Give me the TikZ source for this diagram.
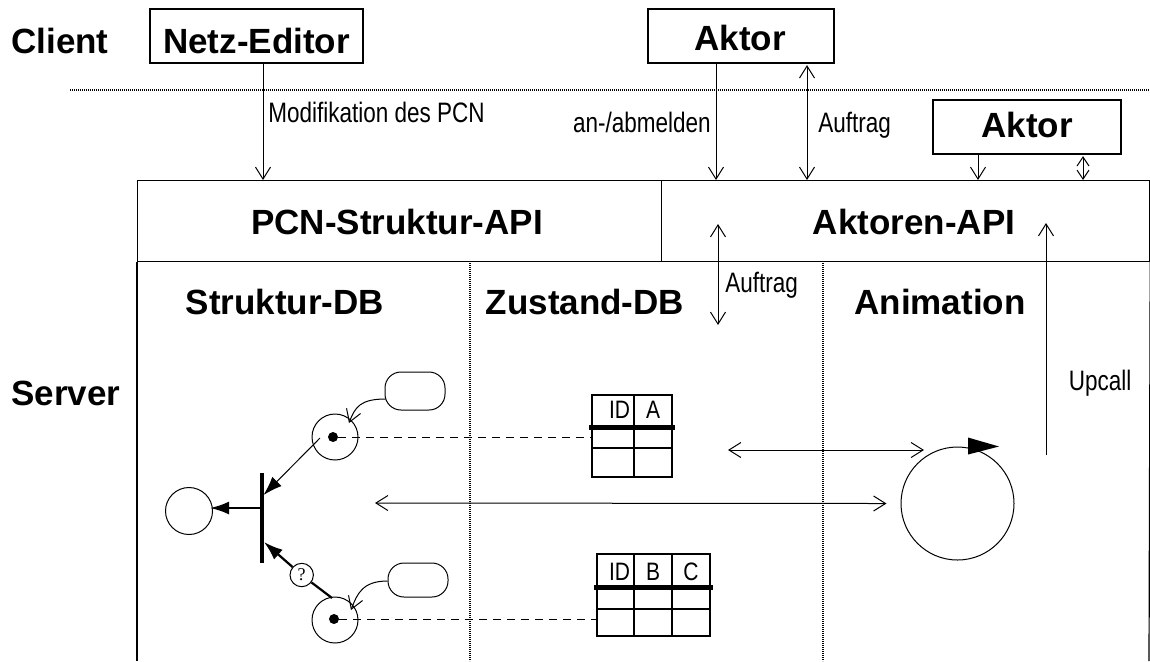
\documentclass[tikz,border=0pt]{standalone}
\usepackage{fontspec}
\usepackage{graphicx}
\setmainfont{Liberation Sans}
\newfontfamily\qfont{Liberation Serif}
\usetikzlibrary{arrows.meta,calc}
\newcommand\stx[1]{\scalebox{1}[1.25]{#1}}
\newcommand\sty[1]{\scalebox{1}[1.2]{#1}}
\begin{document}
\begin{tikzpicture}[x=0.5pt,y=-0.5pt,
  ln/.style={line width=0.6pt},
  bx/.style={draw, line width=0.6pt, inner sep=0pt},
  bt/.style={font=\fontsize{17.5}{20}\selectfont\bfseries, inner sep=0pt, anchor=base},
  rt/.style={font=\fontsize{11.25}{13}\selectfont, inner sep=0pt},
  tt/.style={font=\fontsize{10.5}{12}\selectfont, inner sep=0pt, anchor=base},
  oa/.style={line width=0.5pt, -{Straight Barb[length=6pt,width=7.5pt]}},
  da/.style={line width=0.5pt, {Straight Barb[length=6pt,width=7.5pt]}-{Straight Barb[length=6pt,width=7.5pt]}},
  sda/.style={line width=0.5pt, {Straight Barb[length=4.5pt,width=6pt]}-{Straight Barb[length=4.5pt,width=6pt]}},
  fa/.style={-{Latex[length=9.5pt,width=6.5pt]}},
  place/.style={circle, draw, line width=0.5pt, minimum size=23pt, inner sep=0pt},
  token/.style={circle, fill, minimum size=5pt, inner sep=0pt},
  dotl/.style={line width=0.6pt, dash pattern=on 0.5pt off 0.5pt},
  dotv/.style={line width=0.8pt, dash pattern=on 0.6pt off 0.4pt},
  dashl/.style={line width=0.5pt, dash pattern=on 4pt off 3pt}]
\fill[white] (0,0) rectangle (1150,661);
\useasboundingbox (0,0) rectangle (1150,661);

% side labels
\node[bt] (client) at (60,53) {Client};
\node[bt] (server) at (66,405.5) {Server};

% client boxes
\node[bx, minimum width=106.5pt, minimum height=27pt] (netz) at (256.5,36) {};
\node[bt] (netzt) at (256.5,53) {Netz-Editor};
\node[bx, minimum width=93pt, minimum height=27pt] (aktor1) at (741,36) {};
\node[bt] (aktor1t) at (740,50) {Aktor};
\node[bx, minimum width=94pt, minimum height=27pt] (aktor2) at (1027,127) {};
\node[bt] (aktor2t) at (1027,137) {Aktor};

% dotted separator
\coordinate (dl) at (70,90);
\coordinate (dr) at (1150,90);
\draw[dotl] (dl) -- (dr);

% API row
\node[bx, minimum width=262pt, minimum height=40.5pt, anchor=north west] (pcnapi) at (137,180) {};
\node[bx, minimum width=244pt, minimum height=40.5pt, anchor=north west] (aktapi) at (661,180) {};
\node[bt] (pcnapit) at (397,234.5) {PCN-Struktur-API};
\node[bt] (aktapit) at (914,234.5) {Aktoren-API};

% lower frame
\coordinate (fl) at (137,661);
\coordinate (fr) at (1149,661);
\draw[ln] (pcnapi.south west) -- (fl);
\draw[ln] (aktapi.south east) -- (fr);
\coordinate (v1a) at (470,261);
\coordinate (v1b) at (470,661);
\coordinate (v2a) at (823,261);
\coordinate (v2b) at (823,661);
\draw[dotv] (v1a) -- (v1b);
\draw[dotv] (v2a) -- (v2b);

\node[bt] (sdb) at (285,314.5) {Struktur-DB};
\node[bt] (zdb) at (585,314.5) {Zustand-DB};
\node[bt] (ani) at (940,314.5) {Animation};

% top connectors
\coordinate (n1) at ($(netz.south)+(6.5,0)$);
\draw[oa] (n1) -- (n1 |- pcnapi.north);
\node[rt, anchor=base west] (modl) at (268,122) {\stx{Modifikation des PCN}};
\coordinate (a1) at ($(aktor1.south)+(-25,0)$);
\draw[oa] (a1) -- (a1 |- aktapi.north);
\node[rt, anchor=base east] (anl) at (711,132) {\stx{an-/abmelden}};
\coordinate (a2) at ($(aktor1.south)+(66,1.5)$);
\draw[da] (a2) -- (a2 |- aktapi.north);
\node[rt, anchor=base west] (auf1) at (818,132) {\stx{Auftrag}};
\coordinate (b1) at ($(aktor2.south)+(-49,0)$);
\draw[oa] (b1) -- (b1 |- aktapi.north);
\coordinate (b2) at ($(aktor2.south)+(56,1.5)$);
\draw[sda] (b2) -- (b2 |- aktapi.north);

% Auftrag / Upcall
\coordinate (u1) at (718,224);
\coordinate (u2) at (718,325);
\draw[da] (u1) -- (u2);
\node[rt, anchor=base west] (auf2) at (725,292) {\stx{Auftrag}};
\coordinate (up0) at (1046,455);
\coordinate (up1) at (1046,223);
\draw[oa] (up0) -- (up1);
\node[rt, anchor=base] (upl) at (1100,390) {\stx{Upcall}};

% tables
\node[draw, line width=0.6pt, minimum width=40pt, minimum height=41pt, inner sep=0pt] (tab1) at (632,436) {};
\draw[ln] (634,395) -- (634,477);
\draw[ln] (592,448) -- (672,448);
\draw[line width=2.5pt] (589,427) -- (675,427);
\node[tt] (t1id) at (619.5,418) {\sty{ID}};
\node[tt] (t1a) at (653,418) {\sty{A}};

\node[draw, line width=0.6pt, minimum width=56.5pt, minimum height=41pt, inner sep=0pt] (tab2) at (653.5,595) {};
\draw[ln] (634,554) -- (634,636);
\draw[ln] (672,554) -- (672,636);
\draw[ln] (597,609) -- (710,609);
\draw[line width=2.5pt] (594,587) -- (713,587);
\node[tt] (t2id) at (619.5,580) {\sty{ID}};
\node[tt] (t2b) at (653,580) {\sty{B}};
\node[tt] (t2c) at (691,580) {\sty{C}};

% Petri net
\node[place] (p1) at (335,437) {};
\node[token] (k1) at (333,437) {};
\node[place] (p2) at (335,620) {};
\node[token] (k2) at (334,619) {};
\node[place, minimum size=23.5pt] (p0) at (189,511) {};
\node[fill, minimum width=1.9pt, minimum height=45pt, inner sep=0pt] (bar) at (262,518) {};
\node[circle, draw, line width=0.5pt, fill=white, minimum size=11.7pt, inner sep=0pt, font=\qfont\fontsize{9}{10}\selectfont] (q) at (301.7,575) {?};
\node[draw, line width=0.5pt, rounded corners=8pt, minimum width=30pt, minimum height=19pt, inner sep=0pt] (r1) at (415,391) {};
\node[draw, line width=0.5pt, rounded corners=8pt, minimum width=30pt, minimum height=17pt, inner sep=0pt] (r2) at (418,580) {};

\draw[line width=0.5pt, fa] ($(p1)+(-15,1)$) -- ($(bar)+(1.5,-23)$);
\draw[line width=1.1pt, fa] ($(bar)+(0,-10)$) -- ($(p0)+(21,-3)$);
\draw[line width=1.1pt] ($(p2)+(-3,-22)$) -- (q);
\draw[line width=1.1pt, fa] (q) -- ($(bar)+(2,24)$);

\draw[oa] ($(r1.west)+(1,8)$) .. controls +(-25,0) and +(6,-16) .. ($(p1)+(14,-14)$);
\draw[oa] ($(r2.west)+(0,1)$) .. controls +(-25,0) and +(6,-16) .. ($(p2)+(16,-10)$);

\draw[dashl] (k1.east) -- (k1 -| tab1.west);
\draw[dashl] (k2.east) -- (k2 -| tab2.west);

% animation
\node[circle, draw, line width=0.5pt, minimum size=56.5pt, inner sep=0pt] (anim) at (957.5,503.5) {};
\fill ($(anim.north)+(10.5,-9)$) -- ($(anim.north)+(41.5,0)$) -- ($(anim.north)+(10.5,8)$) -- cycle;

\coordinate (h1) at (728,450);
\coordinate (h2) at (924,450);
\draw[da] (h1) -- (h2);
\coordinate (g1) at (375,503);
\draw[da] (g1) -- ($(anim.west)+(-14,0)$);
\end{tikzpicture}
\end{document}
